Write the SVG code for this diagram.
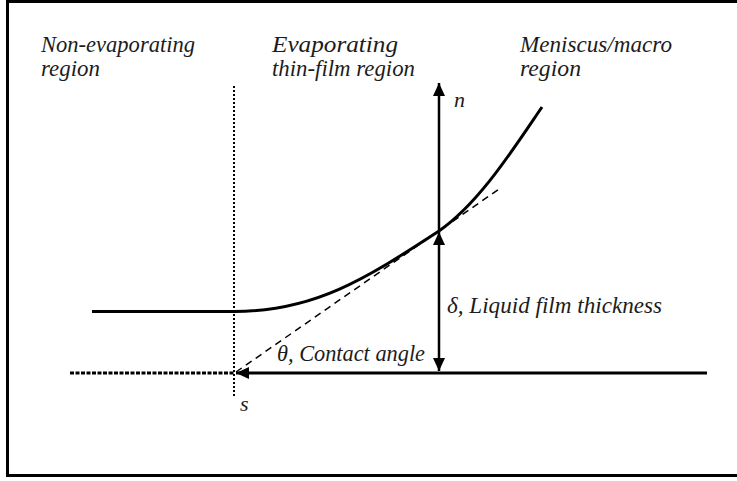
<svg xmlns="http://www.w3.org/2000/svg" width="737" height="481" viewBox="0 0 737 481">
  <defs>
    <marker id="ah" viewBox="0 0 13 12" refX="13" refY="6" markerWidth="13" markerHeight="12" markerUnits="userSpaceOnUse" orient="auto-start-reverse">
      <path d="M0,0 L13,6 L0,12 Z" fill="#000"/>
    </marker>
  </defs>
  <style>
    text { font-family: 'Liberation Serif', 'DejaVu Serif', serif; font-style: italic; fill: #1c1c1c; }
    .lbl { font-size: 24px; }
    .sym { font-size: 22px; }
    .solid { fill: none; stroke: #000; stroke-width: 3; }
    .thin { fill: none; stroke: #000; stroke-width: 2.5; }
  </style>
  <rect x="0" y="0" width="737" height="481" fill="#fff"/>
  <rect x="7.5" y="1.5" width="740" height="474" fill="none" stroke="#000" stroke-width="3"/>

  <g id="label-non-evaporating">
    <text class="lbl" x="41" y="52" textLength="154" lengthAdjust="spacingAndGlyphs">Non-evaporating</text>
    <text class="lbl" x="41" y="76" textLength="59" lengthAdjust="spacingAndGlyphs">region</text>
  </g>
  <g id="label-evaporating">
    <text class="lbl" x="272" y="52" textLength="126" lengthAdjust="spacingAndGlyphs">Evaporating</text>
    <text class="lbl" x="272" y="76" textLength="143" lengthAdjust="spacingAndGlyphs">thin-film region</text>
  </g>
  <g id="label-meniscus">
    <text class="lbl" x="520" y="52" textLength="152" lengthAdjust="spacingAndGlyphs">Meniscus/macro</text>
    <text class="lbl" x="520" y="76" textLength="61" lengthAdjust="spacingAndGlyphs">region</text>
  </g>

  <g id="connectors">
    <line x1="234" y1="86" x2="234" y2="396" stroke="#000" stroke-width="2" stroke-dasharray="2,2"/>
    <line x1="70" y1="373" x2="234" y2="373" stroke="#000" stroke-width="3" stroke-dasharray="4,1.5"/>
    <line x1="707" y1="373" x2="236" y2="373" class="solid" marker-end="url(#ah)"/>
    <path class="solid" d="M92,311.5 L234,311.5 C314,311.5 364,280 439,231 C479,203 512,151 542,107"/>
    <line x1="236" y1="372" x2="502" y2="187" stroke="#000" stroke-width="1.5" stroke-dasharray="7,5"/>
    <line x1="439" y1="231" x2="439" y2="83" class="thin" marker-end="url(#ah)"/>
    <line x1="439" y1="232" x2="439" y2="371" class="thin" marker-start="url(#ah)" marker-end="url(#ah)"/>
  </g>

  <g id="label-n"><text class="sym" x="454" y="107">n</text></g>
  <g id="label-s"><text class="sym" x="240" y="411" font-size="20">s</text></g>
  <g id="label-delta"><text class="lbl" x="447" y="313" textLength="215" lengthAdjust="spacingAndGlyphs">δ, Liquid  film thickness</text></g>
  <g id="label-theta"><text class="lbl" x="277" y="361" textLength="148" lengthAdjust="spacingAndGlyphs">θ, Contact angle</text></g>
</svg>
